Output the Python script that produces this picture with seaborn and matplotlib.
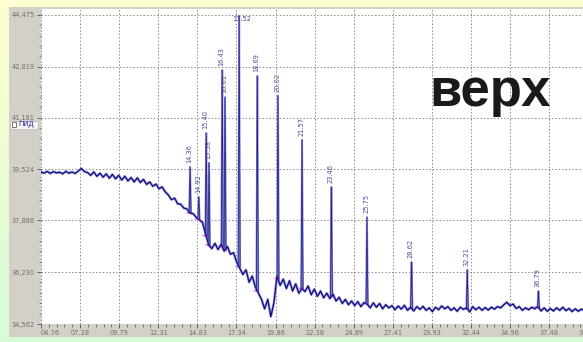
import numpy as np
import pandas as pd
import seaborn as sns
import matplotlib.pyplot as plt
from matplotlib.patches import Rectangle
from matplotlib.colors import LinearSegmentedColormap
from matplotlib.ticker import FixedLocator

# ---- data -------------------------------------------------------------
sample_start = 4.76   # min
sample_step = 0.2     # min
signal = [
    39.44, 39.40, 39.46, 39.39, 39.45, 39.41, 39.43, 39.38, 39.46, 39.40,
    39.44, 39.39, 39.47, 39.55, 39.45, 39.42, 39.33, 39.44, 39.30, 39.40,
    39.27, 39.38, 39.24, 39.36, 39.22, 39.33, 39.18, 39.30, 39.15, 39.26,
    39.12, 39.25, 39.10, 39.20, 39.04, 39.12, 38.98, 39.05, 38.90, 38.96,
    38.80, 38.70, 38.55, 38.60, 38.42, 38.40, 38.28, 38.25, 38.12, 38.10,
    37.98, 37.90, 37.82, 37.45, 37.10, 36.98, 37.15, 36.95, 37.12, 36.90,
    37.05, 36.80, 36.85, 36.55, 36.35, 36.15, 36.30, 35.90, 36.10, 35.75,
    35.55, 35.35, 35.05, 35.35, 34.80, 35.25, 36.10, 35.80, 36.00, 35.70,
    35.95, 35.62, 35.85, 35.55, 35.70, 35.60, 35.78, 35.50, 35.68, 35.45,
    35.62, 35.40, 35.55, 35.38, 35.52, 35.30, 35.42, 35.22, 35.35, 35.18,
    35.30, 35.15, 35.28, 35.12, 35.25, 35.20, 35.08, 35.24, 35.10, 35.22,
    35.05, 35.18, 35.08, 35.15, 35.02, 35.14, 35.04, 35.16, 35.00, 35.10,
    34.98, 35.12, 35.03, 35.13, 35.00, 35.08, 34.96, 35.10, 35.02, 35.14,
    35.05, 35.12, 35.00, 35.08, 34.97, 35.10, 35.03, 35.08, 34.95, 35.12,
    35.02, 35.10, 35.00, 35.09, 35.01, 35.10, 35.04, 35.12, 35.08, 35.18,
    35.26, 35.15, 35.20, 35.06, 35.12, 35.00, 35.08, 35.02, 35.10, 35.05,
    35.12, 34.98, 35.08, 34.97, 35.06, 34.98, 35.08, 35.00, 35.10, 34.99,
    35.06, 34.96, 35.05, 34.97, 35.04, 34.98,
]

peak_times = [14.36, 14.92, 15.40, 15.58, 16.43, 16.61, 17.52, 18.69,
              20.02, 21.57, 23.46, 25.75, 28.62, 32.21, 36.79]
peak_heights = [39.60, 38.64, 40.69, 39.73, 42.71, 41.84, 44.45, 42.52,
                41.88, 40.47, 38.96, 37.99, 36.55, 36.30, 35.62]

x_ticks = [4.76, 7.28, 9.79, 12.31, 14.83, 17.34, 19.86, 22.38, 24.89,
           27.41, 29.93, 32.44, 34.96, 37.48, 39.99]
x_tick_labels = ["04.76", "07.28", "09.79", "12.31", "14.83", "17.34",
                 "19.86", "22.38", "24.89", "27.41", "29.93", "32.44",
                 "34.96", "37.48", "39.99"]
y_ticks = [34.562, 36.230, 37.886, 39.524, 41.181, 42.819, 44.475]
y_tick_labels = ["34,562", "36,230", "37,886", "39,524", "41,181",
                 "42,819", "44,475"]

# ---- style ------------------------------------------------------------
sns.set_theme(style="white")
plt.rcParams['font.family'] = ['Liberation Sans Narrow', 'DejaVu Sans']

W, H = 583, 342
fig = plt.figure(figsize=(W / 100, H / 100), dpi=100)

# slide background and grey panel
bg = fig.add_axes([0, 0, 1, 1], zorder=-10)
slide = LinearSegmentedColormap.from_list("slide", ["#ffffd0", "#d6fcd8"])
bg.imshow(np.linspace(0, 1, 256)[:, None], aspect="auto", cmap=slide,
          extent=[0, 1, 0, 1], origin="upper")
bg.add_patch(Rectangle((9 / W, 5 / H), 1, 330 / H, facecolor="#d4d0c8",
                       edgecolor="none"))
bg.set_xlim(0, 1)
bg.set_ylim(0, 1)
bg.axis("off")

# chromatogram axes (runs past the right edge of the canvas)
ax = fig.add_axes([41 / W, 18 / H, 559 / W, 315 / H])
ax.set_facecolor("white")
ax.set_xlim(4.76, 4.76 + 559 / 15.53)
ax.set_ylim(34.562, 44.667)
for s in ax.spines.values():
    s.set_visible(False)

time = sample_start + sample_step * np.arange(len(signal))
trace = pd.DataFrame({"time": time, "signal": signal})

# peaks as narrow spikes sitting on the local baseline
rows = []
for k, (t, h) in enumerate(zip(peak_times, peak_heights)):
    base = float(np.interp(t, time, signal))
    for dt, v in ((-0.06, base), (0.0, h), (0.06, base)):
        rows.append({"peak": k, "time": t + dt, "signal": v})
peaks = pd.DataFrame(rows)

# integration baseline marks
marks = []
for k, t in enumerate(peak_times):
    base = float(np.interp(t, time, signal))
    marks.append({"peak": k, "time": t - 0.22, "signal": base + 0.02})
    marks.append({"peak": k, "time": t + 0.12, "signal": base - 0.03})
marks = pd.DataFrame(marks)

sns.lineplot(data=trace, x="time", y="signal", ax=ax, color="#8c8cd4",
             lw=1.8, estimator=None, sort=False, zorder=3)
sns.lineplot(data=peaks, x="time", y="signal", units="peak", ax=ax,
             color="#8a8ad0", lw=1.4, estimator=None, sort=False, zorder=3)
sns.lineplot(data=marks, x="time", y="signal", units="peak", ax=ax,
             color="#ff4fd8", lw=0.8, estimator=None, sort=False, zorder=4)
sns.lineplot(data=trace, x="time", y="signal", ax=ax, color="#0a0a78",
             lw=0.8, estimator=None, sort=False, zorder=5)
sns.lineplot(data=peaks, x="time", y="signal", units="peak", ax=ax,
             color="#20208a", lw=0.55, estimator=None, sort=False, zorder=5)

# retention-time labels above each peak
for t, h in zip(peak_times, peak_heights):
    lab = f"{t:.2f}"
    if h > 44.2:
        ax.text(t + 0.15, 44.35, lab, fontsize=4.8, color="#4b4b9a",
                ha="center", va="center", zorder=6)
    else:
        ax.annotate(lab, (t, h), xytext=(-0.5, 3), textcoords="offset points",
                    rotation=90, fontsize=4.8, color="#4b4b9a",
                    ha="center", va="bottom", zorder=6)

# ticks and grid
ax.xaxis.set_major_locator(FixedLocator(x_ticks))
ax.set_xticklabels(x_tick_labels)
ax.yaxis.set_major_locator(FixedLocator(y_ticks))
ax.set_yticklabels(y_tick_labels)
xminor = np.concatenate([np.linspace(a, b, 6)[1:-1]
                         for a, b in zip(x_ticks[:-1], x_ticks[1:])])
yminor = np.concatenate([np.linspace(a, b, 6)[1:-1]
                         for a, b in zip(y_ticks[:-1], y_ticks[1:])])
ax.xaxis.set_minor_locator(FixedLocator(xminor))
ax.yaxis.set_minor_locator(FixedLocator(yminor))
ax.tick_params(axis="both", which="major", bottom=True, left=True,
               direction="out", length=3, width=0.6, color="#505050",
               pad=1.5, labelsize=4.8, labelcolor="#6e6e6e")
ax.tick_params(axis="both", which="minor", bottom=True, left=True,
               direction="out", length=1.8, width=0.5, color="#505050")
ax.get_xticklabels()[0].set_horizontalalignment("left")
ax.grid(True, which="major", color="#8a8a8a", linestyle=(0, (1.5, 2)),
        linewidth=0.7)
ax.set_axisbelow(True)
ax.set_xlabel("")
ax.set_ylabel("")

# detector selector
bg.add_patch(Rectangle((10 / W, (H - 129) / H), 28 / W, 8 / H,
                       facecolor="#f4f4f4", edgecolor="#b0b0b0", lw=0.4))
bg.add_patch(Rectangle((11.5 / W, (H - 127) / H), 4 / W, 4.5 / H,
                       facecolor="white", edgecolor="#404040", lw=0.5))
bg.text(18 / W, (H - 125) / H, "ПИД", fontsize=5.2, color="#2424a8",
        ha="left", va="center", family=["Liberation Sans", "DejaVu Sans"])

# sample caption
fig.text(490 / W, (H - 106) / H, "верх", fontsize=38, fontweight="bold",
         color="#1a1a1a", ha="center", va="baseline",
         family=["Liberation Sans", "DejaVu Sans"])

fig.savefig("out.png", dpi=100)
